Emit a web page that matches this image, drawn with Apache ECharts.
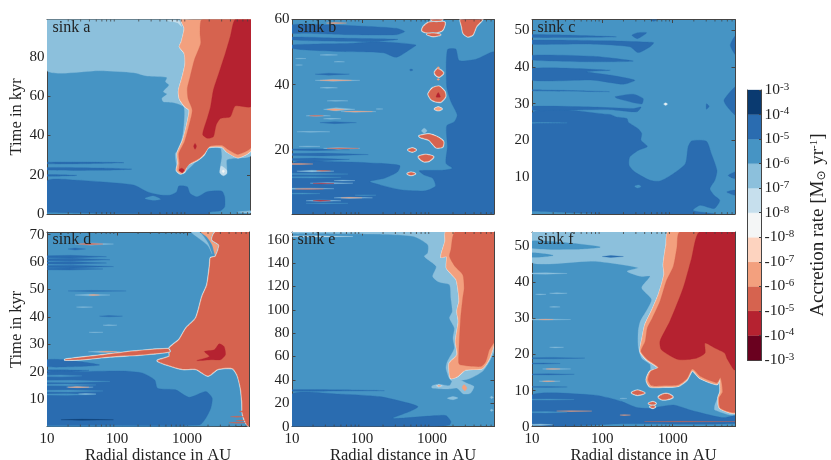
<!DOCTYPE html>
<html><head><meta charset="utf-8">
<script src="https://cdn.jsdelivr.net/npm/echarts@6/dist/echarts.min.js"></script>
<style>html,body{margin:0;padding:0;background:#fff}#c{width:831px;height:460px}</style>
</head><body><div id="c"></div>
<script>
// Contour bands, from +1e-3 (index 0) down to -1e-3 (index 10)
const levelColors=['#0a3a70','#2a6cb0','#4694c4','#8cc0dc','#c6dfed','#f4f6f6','#fdd3bf','#f3a07e','#d6634f','#b52230','#6a011f'];
const colorbarLabels=['-10|-3','-10|-4','-10|-5','-10|-6','-10|-7','-10|-8','10|-8','10|-7','10|-6','10|-5','10|-4','10|-3'];
const minorAU=[20,30,40,50,60,70,80,90,200,300,400,500,600,700,800,900,2000,3000,4000,5000,6000,7000];
const majorAU=[10,100,1000];

// Each region: [band index, [[log10 AU, kyr], ...], edged?]
const sinkA=[
[3,[[1,73],[1.75,73],[2.23,72],[2.42,70.3],[2.70,69.6],[2.68,67.4],[2.73,65.7],[2.65,62.3],[2.70,61.1],[2.63,58.9],[2.65,57.2],[2.80,56.7],[2.94,54.7],[2.95,49.6],[2.93,41.1],[2.87,32.6],[2.82,30.9],[2.84,24.1],[2.87,21.6],[2.93,20.4],[2.99,22.4],[3.18,29.2],[3.27,33.5],[3.46,33.5],[3.48,29.2],[3.46,24.1],[3.48,19.9],[3.55,22.4],[3.55,27.5],[3.65,28.4],[3.9,30.1],[3.9,99.2],[1,99.2]]],
[4,[[2.7,98.5],[2.87,98.5],[2.91,95.5],[2.85,97.5]]],
[4,[[3.47,24.5],[3.55,22.4],[3.55,20.5],[3.5,19.5],[3.45,21]]],
[5,[[3.5,22.5],[3.52,22],[3.5,21],[3.48,22]]],
[7,[[2.91,99.2],[2.95,94.6],[2.91,87.8],[2.88,85.3],[2.95,81.9],[2.96,75.9],[2.91,68.3],[2.87,63.2],[2.88,58.9],[2.96,54.7],[3.02,53],[2.99,46.2],[2.93,37.7],[2.85,30.9],[2.86,25.8],[2.84,22.4],[2.89,20.7],[2.95,21.6],[2.99,25],[3.13,27.5],[3.22,30.1],[3.29,34],[3.48,34.3],[3.55,31.8],[3.71,28.9],[3.9,33],[3.9,99.2]],1],
[8,[[3.2,99.2],[3.17,92.1],[3.18,87],[3.09,78.5],[3.03,70],[2.99,64],[3,58.9],[3.06,53],[3.01,44.5],[2.95,36.9],[2.87,30.9],[2.88,25.8],[2.87,22.4],[2.89,21.6],[2.95,22.4],[3.02,25.5],[3.16,28.4],[3.24,31.3],[3.31,34.6],[3.48,35],[3.58,32.6],[3.71,30.4],[3.9,34.3],[3.9,99.2]]],
[9,[[3.67,99.2],[3.6,90.4],[3.53,81.9],[3.46,74.2],[3.36,63.2],[3.32,54.7],[3.28,49.6],[3.22,42.8],[3.21,40.3],[3.28,38.6],[3.36,39.4],[3.4,45.4],[3.46,48.7],[3.6,49.6],[3.67,55],[3.9,55],[3.9,99.2]]],
[9,[[3.1,36],[3.12,34.6],[3.1,33],[3.08,34.6]]],
[9,[[2.87,22.4],[2.91,23.4],[2.95,22.4],[2.92,21]]],
[1,[[1,17],[1.42,17.3],[1.75,16.5],[2.23,14.8],[2.42,11.4],[2.61,9.7],[2.75,9.7],[2.84,11.4],[2.87,14.3],[2.99,13.9],[3.03,10.5],[3.13,8.8],[3.27,11.4],[3.48,11.7],[3.52,8.8],[3.52,3.7],[3.46,1.7],[3.3,1],[3.3,0],[1,0]]],
[2,[[1,0.7],[1.75,0.2],[2.3,0],[1,0]]],
[2,[[2.39,8],[2.51,9.2],[2.61,7.6],[2.51,7.1]]],
[3,[[3.7,1],[3.9,1.7],[3.9,0.6]]],
[1,[[1,26.4],[1.56,26.5],[2.09,26.2],[1.56,25.7],[1,25.6]]],
[1,[[1,23.7],[1.75,23.5],[2.2,22.9],[1.75,22.3],[1,22.4]]],
[1,[[1,20.1],[1.42,19.7],[1,19.3]]]
];
const sinkB=[
[1,[[1,15.8],[1.64,16.3],[2.25,15.8],[2.54,15.1],[2.51,13.2],[2.32,11.2],[2.11,10.2],[2.27,9.1],[2.58,7.6],[2.91,7.4],[3.05,8.8],[3.01,11.2],[2.89,12.2],[2.82,13.5],[3.15,13.7],[3.29,14.3],[3.2,15.8],[3.22,20.9],[3.21,27.3],[3.32,28.6],[3.36,30.7],[3.27,34.8],[3.21,39.4],[3.22,50.7],[3.34,50.9],[3.39,47.4],[3.63,47.8],[3.9,49.8],[3.9,0],[1,0]]],
[1,[[1,58.4],[1.87,58.1],[2.49,57.3],[2.61,56.3],[2.49,55.3],[1.87,55.3],[1.16,55.8],[1,55.8]]],
[1,[[1,54.6],[1.64,54.3],[2.51,53.9],[2.11,53.2],[1,53.7]]],
[1,[[1,52.2],[1.87,52.7],[2.25,53.2],[2.77,52.2],[2.68,50.7],[2.49,48.4],[2.3,49.8],[1.64,50.2],[1.16,50.7],[1,51.2]]],
[1,[[2.68,44.5],[2.7,44.8],[2.73,44.5],[2.7,44.2]]],
[8,[[2.88,57.8],[2.96,59.1],[3.18,59.1],[3.15,56.8],[3.06,56.1],[2.91,56.1],[2.86,56.6]],1],
[8,[[2.99,60.2],[3.15,60.2],[3.13,59.7],[3,59.7]],1],
[8,[[2.93,55.5],[3.02,55.7],[3.12,55.3],[3.02,54.9]],1],
[8,[[3.41,60.2],[3.72,60.2],[3.63,57.8],[3.58,55.3],[3.51,54.8],[3.45,55.8],[3.43,57.8]],1],
[8,[[3.04,43.7],[3.08,44.8],[3.13,44.3],[3.16,43.5],[3.11,42.5],[3.07,42.7]],1],
[7,[[3.07,45.2],[3.09,45.5],[3.11,45.2],[3.09,44.9]]],
[7,[[3.07,41.6],[3.09,41.9],[3.11,41.6],[3.09,41.3]]],
[8,[[2.95,37.1],[3.01,38.9],[3.1,39.4],[3.18,37.8],[3.19,36.3],[3.13,34.8],[3.06,34.8],[2.99,35.5]],1],
[9,[[3.09,37.6],[3.12,36.2],[3.06,36.2]]],
[7,[[3.04,32.5],[3.09,33],[3.14,32.5],[3.09,32.1]],1],
[3,[[2.85,25.8],[2.89,26.6],[2.93,25.8],[2.89,25]]],
[8,[[2.82,24.2],[2.96,24.7],[3.08,23.8],[3.16,22.5],[3.15,20.9],[3.06,20.7],[2.96,23],[2.84,23.8]],1],
[8,[[2.66,19.9],[2.72,20.4],[2.77,19.9],[2.72,19.4]],1],
[8,[[2.81,17.8],[2.91,18.4],[3.02,17.8],[2.96,16.6],[2.89,16.4],[2.85,16.8]],1],
[8,[[2.65,12.6],[2.7,13],[2.76,12.6],[2.7,12.2]],1]
];
const sinkBStreaks=[
[1.33,1.82,43.2,.3,1],[1.4,1.92,28.3,.3,1],[1,1.82,20,.3,1],[1,2.09,18.5,.45,1],[1,1.82,17,.45,1],
[1.33,1.97,41.3,.3,3],[1.4,1.85,41.3,.15,7],[1.45,1.9,32.4,.5,3],[1.5,1.75,32.3,.25,7],[1.7,2.2,31.7,.2,3],[1.75,2.15,31.7,.1,7],
[1.2,1.55,30.4,.2,3],[1.25,1.45,30.4,.1,8],[1.45,1.97,20.4,.25,3],[1.5,1.95,20.4,.13,8],[1,1.3,15.6,.18,7],
[1.07,1.6,13.4,.25,3],[1.35,1.55,13.5,.1,8],[1.26,1.87,9.7,.2,3],[1.3,1.6,9.6,.1,9],[1.6,1.9,10.5,.1,3],
[1,1.6,8,.2,3],[1.05,1.45,7.9,.1,8],[1.2,1.7,4.3,.25,3],[1.3,1.55,4.3,.13,9],[1.6,2.15,5.2,.18,3],[1.7,2,5.2,.08,7],
[1.4,1.65,49.1,.12,3],[1.49,1.78,58.9,.2,7],[1.07,1.54,25.5,.12,3],[1.4,1.65,39,.15,3],[1.5,1.8,35,.1,3],[1.45,1.7,29.5,.12,3],[2.2,2.3,32.5,.07,3],
[1.05,1.15,46,.08,3],[1.05,1.2,48,.08,3],[1.6,1.75,47,.08,3],[1.1,1.4,21,.08,3],
[1,1.7,11.5,.2,2],[1,1.8,12.5,.2,2],[1,1.4,6.5,.15,2],[1.2,1.8,3.5,.1,2],[1.9,2.2,6,.1,2]
];
const sinkC=[
[1,[[1,27.5],[2.11,27.1],[2.2,26.4],[2.35,26],[2.37,25],[2.51,23.2],[2.56,21.9],[2.55,20.1],[2.64,18.4],[2.51,17.3],[2.39,15.5],[2.38,13.3],[2.46,11.5],[2.68,9.2],[2.82,9],[3.01,11],[3.18,13.7],[3.22,18.3],[3.27,19.9],[3.48,19.8],[3.55,16.4],[3.63,11.9],[3.6,9.2],[3.53,6.9],[3.59,5.1],[3.67,3.7],[3.59,1.5],[3.39,2.4],[3.29,1],[3.6,0.1],[3.6,0],[1,0]]],
[2,[[2.46,7.6],[2.52,7.9],[2.55,7.5],[2.5,7.1]]],
[2,[[1,0.7],[1.64,0.2],[1.9,0],[1,0]]],
[1,[[3.9,48.6],[3.82,45.9],[3.9,43.2]]],
[1,[[3.9,34.6],[3.73,31],[3.78,29.1],[3.9,26.9]]],
[1,[[3.9,11.5],[3.79,10.5],[3.9,9.6]]],
[1,[[3.77,6],[3.9,5.1],[3.9,6.5]]],
[1,[[2.68,52.9],[2.78,52.9],[2.73,52.4]]],
[1,[[1,48.8],[2.2,48.2],[1,48]]],
[1,[[1,47.3],[2.11,47.1],[2.58,46.8],[2.73,46.6],[2.68,45.5],[2.51,43.9],[2.39,45.5],[1.87,46.2],[1,46.2]]],
[1,[[2.42,48.6],[2.5,49.3],[2.63,49.3],[2.5,47.7]]],
[1,[[1,43.2],[1.87,42.9],[2.44,41.6],[1.87,41.4],[1,41.9]]],
[1,[[1,39.6],[2.11,39.1],[1.78,38.7],[2.11,37.8],[2.46,36.4],[2.3,35.3],[1.87,36.4],[1,36.4]]],
[1,[[1,33.8],[2.1,33.3],[1,33.5]]],
[1,[[2.18,31.9],[2.44,32.6],[2.58,31.4],[2.56,29.9],[2.22,31.4]]],
[1,[[1,29.3],[1.87,29.1],[2.44,28.7],[2.55,29.1],[2.49,27.8],[2.11,28.4],[1,28.2]]],
[1,[[3.48,30],[3.52,29.3],[3.48,28.5]]],
[2,[[1,24.9],[1.5,24.8],[1,24.7]]],
[4,[[2.87,29.9],[2.9,30.3],[2.93,29.9],[2.9,29.5]]],
[5,[[2.885,29.9],[2.9,30.1],[2.915,29.9],[2.9,29.7]]]
];
const sinkD=[
[3,[[3.06,71],[3.18,71],[3.3,67],[3.36,63],[3.3,66],[3.18,68.5]]],
[1,[[1,19.5],[1.52,20.1],[2.09,20.3],[2.37,19.5],[2.54,17],[2.58,14],[2.84,13.4],[3.03,10.7],[3.27,12.8],[3.36,10.4],[3.34,6.7],[3.27,3.1],[3.18,0.6],[1,0.3]]],
[1,[[1,24.4],[1.33,24.2],[1.75,22.5],[1.42,21.9],[1,21.9]]],
[1,[[1,20.7],[1.6,20.5],[1,20.1]]],
[7,[[3.2,71],[3.29,69],[3.36,66.3],[3.41,62.1],[3.46,66.3],[3.41,71]]],
[8,[[3.41,71],[3.36,68.2],[3.46,66.3],[3.41,62.1],[3.34,61.5],[3.33,59],[3.29,51.7],[3.22,47.5],[3.13,39.6],[2.99,35.9],[2.89,31.7],[2.75,28.6],[2.75,25.6],[2.58,24],[2.8,21.9],[2.94,21],[3.13,21],[3.3,18.6],[3.44,21],[3.65,21.3],[3.72,18.9],[3.77,14],[3.79,9.2],[3.8,4.3],[3.86,0.6],[3.9,0],[3.9,71]],1],
[9,[[3.25,27.4],[3.39,28],[3.46,30.2],[3.53,29.2],[3.55,26.2],[3.48,24.4],[3.36,24.4],[3.14,24.1],[3.32,25.6]]],
[8,[[1.26,24.4],[1.75,25.9],[2.23,27.4],[2.73,28.3],[2.75,27.4],[2.32,26.2],[1.9,25.6],[1.52,24.6]],1]
];
const sinkDStreaks=[
[1,1.85,62,.5,1],[1,1.9,60.9,.5,1],[1,1.85,59.7,.5,1],[1,1.95,58.4,.5,1],[1,1.8,57.5,.4,1],[1.3,1.55,64.8,.4,1],
[1.4,1.95,66.6,.4,3],[1.45,1.8,66.6,.25,8],[1.4,1.9,48,.3,3],[1.6,1.75,48,.18,7],[1.3,2.13,49.5,.2,1],[1.42,1.65,43.6,.15,3],[1.75,2.08,40.3,.25,1],[1.8,2,37,.15,3],[1.6,1.8,34.4,.1,3],
[1.59,2.04,27.3,.3,3],[1.75,2,27.3,.2,7],
[1,1.5,18.5,.35,2],[1,1.9,16.5,.4,2],[1,1.7,15.2,.3,2],[1,1.8,13,.35,2],[1,1.7,11.7,.3,2],[1.28,1.66,14.4,.2,3],[1.3,1.6,14.4,.1,7],[1.45,1.7,11.9,.15,3],
[1.2,1.95,2.5,.2,0],[3.62,3.85,3.6,.2,8],[3.7,3.85,2.2,.2,8],[3.6,3.88,1.4,.2,8],[3.75,3.88,5.5,.3,8],[1,3.7,0.1,.25,2]
];
const sinkE=[
[3,[[1,165.5],[2.11,164.9],[2.73,162.9],[2.94,155.7],[2.94,148.6],[2.89,145.7],[3.06,137.1],[3.01,128.6],[3.1,123.7],[3.25,121.4],[3.27,110],[3.29,98.6],[3.25,92.9],[3.32,84.3],[3.3,75.7],[3.32,67.1],[3.22,55.7],[3.2,50],[3.25,41],[3.3,38.6],[3.53,40.9],[3.72,47.1],[3.82,55.7],[3.9,67],[3.9,166.6],[1,166.6]]],
[3,[[3,34.9],[3.1,36.3],[3.25,35.1],[3.3,40],[3.4,40],[3.5,37.1],[3.6,34.3],[3.55,28.6],[3.45,28],[3.36,32.9],[3.25,32.3],[3.1,32.5],[3,33]]],
[3,[[3.22,24.3],[3.3,25.7],[3.37,24.5],[3.3,23]]],
[7,[[3.2,166.6],[3.19,158.6],[3.13,145.1],[3.21,145.7],[3.21,135.7],[3.29,130],[3.35,125.7],[3.38,115.7],[3.39,107],[3.36,98.6],[3.38,90],[3.34,72.9],[3.36,61.4],[3.25,54.3],[3.25,47.1],[3.27,41.4],[3.36,42.9],[3.48,48.6],[3.72,50],[3.82,58.6],[3.9,75.7],[3.9,166.6]],1],
[8,[[3.33,166.6],[3.27,151.4],[3.25,145.7],[3.33,137.1],[3.44,130],[3.46,118.6],[3.44,110],[3.41,92.9],[3.39,72.9],[3.38,55],[3.4,52.9],[3.7,51.4],[3.77,55.7],[3.82,65.7],[3.9,74.3],[3.9,166.6]]],
[7,[[3.43,33.5],[3.46,36],[3.5,33],[3.47,30.5]]],
[1,[[1,28],[1.64,28],[2.25,25.7],[2.58,21.4],[2.8,17.1],[2.68,12.9],[2.44,7.1],[3.06,9.4],[3.2,9.4],[3.27,4.3],[3.25,1.4],[3,0],[1,0]]],
[1,[[1,31.6],[1.7,31.5],[2.32,30.8],[1.7,30.5],[1,30.3]]]
];
const sinkEStreaks=[[1,1.87,162.8,.5,4],[3.06,3.15,34.9,1.2,4],[3.08,3.13,34.9,.6,7],[3.83,3.88,25,1.2,3],[3.83,3.88,14,1,3]];
const sinkF=[
[3,[[1,45.5],[1.87,45.9],[2.51,44.1],[2.35,43.1],[2.54,41.7],[2.68,41.7],[2.56,38.5],[2.7,35.3],[2.65,32.9],[2.54,29.2],[2.51,26.4],[2.51,22.2],[2.56,19],[2.68,17.2],[2.68,14.3],[2.63,12],[2.77,11],[3.06,11.6],[3.2,12.5],[3.28,15.4],[3.39,13.5],[3.63,12.7],[3.67,9.7],[3.6,6],[3.6,4.6],[3.9,3.5],[3.9,54],[1,54]]],
[2,[[1,51.5],[1.6,50.8],[1.97,49.8],[1.6,49.2],[1,49.5]]],
[2,[[1,48.2],[1.3,47.5],[1,47]]],
[7,[[2.94,54],[2.91,50.6],[2.87,45],[2.88,42.2],[2.8,36.6],[2.7,32],[2.61,28.3],[2.57,24.6],[2.54,20.9],[2.63,18.6],[2.8,16.2],[2.68,15.3],[2.63,13],[2.68,11.1],[2.91,11.1],[3.08,11.3],[3.2,13],[3.28,15.6],[3.39,13.5],[3.63,11.8],[3.67,13.5],[3.68,9.7],[3.65,7.9],[3.67,5.1],[3.9,4],[3.9,54]],1],
[8,[[3.1,54],[3.06,49.6],[3.01,44.5],[2.91,40.4],[2.82,34.8],[2.71,30.1],[2.64,27.4],[2.61,23.7],[2.55,20.9],[2.64,18.7],[2.8,16.4],[2.69,15.3],[2.65,13],[2.7,11.4],[2.91,11.4],[3.08,11.6],[3.2,13.3],[3.28,16],[3.4,13.9],[3.63,12.2],[3.68,13.6],[3.71,9.7],[3.66,7.9],[3.68,5.1],[3.9,4.2],[3.9,54]]],
[9,[[3.38,54],[3.27,46.8],[3.15,38.5],[2.96,29.2],[2.82,23.7],[2.84,21.3],[3.08,18.6],[3.34,19],[3.46,20.4],[3.46,23.2],[3.6,21.8],[3.74,20.4],[3.77,19],[3.87,15.8],[3.9,15.8],[3.9,54]]],
[1,[[1,8.8],[1.87,8.8],[2.11,7.9],[2.27,7],[2.49,5.3],[2.68,5.1],[3.01,6],[3.25,4.6],[3.53,3.2],[3.72,2.5],[3.9,3],[3.9,.9],[2.3,.8],[1,.6]]],
[8,[[2.42,9.4],[2.5,10],[2.6,9.3],[2.5,8.8]],1],
[8,[[2.8,8.2],[2.87,9],[2.94,9],[3,8.2],[2.92,7.6],[2.84,7.6]],1],
[8,[[2.66,6.4],[2.72,6.8],[2.76,6.4],[2.72,6.1]],1],
[8,[[2.68,5.5],[2.72,5.8],[2.75,5.5],[2.72,5.2]],1]
];
const sinkFStreaks=[
[2,2.3,47.2,.25,1],[1,1.5,42.5,.2,3],[1.05,1.2,36.7,.1,3],[1.25,1.5,37,.12,3],[1.25,1.4,33.2,.1,3],[1,1.55,29.7,.15,3],[1.1,1.3,29.7,.07,7],[1.25,1.45,22,.12,3],
[1,1.75,19,.2,1],[1,1.4,17.5,.15,1],[1.15,1.55,16,.15,3],[1.2,1.4,16,.07,7],[1,1.6,14.5,.15,1],[1.1,1.4,12.6,.15,3],[1.15,1.32,12.6,.07,7],[1,1.5,11,.15,1],
[1.35,1.85,4.3,.1,7],[2.25,2.4,3.2,.1,7],[2.6,3.9,1.4,.08,8],[2.25,2.35,7.8,.1,3],[1,1.3,0.5,.2,3],[1,1.6,7.5,.15,2],[1,1.5,4,.2,2]
];

const panels=[
 {name:'sink a',regions:sinkA,streaks:[],left:47,top:19.5,width:203.5,yMin:0,yMax:99.1,yTicks:[0,20,40,60,80],yName:true,xLabels:false},
 {name:'sink b',regions:sinkB,streaks:sinkBStreaks,left:292,top:19.5,width:202,yMin:0.2,yMax:60,yTicks:[20,40,60],xLabels:false},
 {name:'sink c',regions:sinkC,streaks:[],left:532,top:19.5,width:203,yMin:0,yMax:52.9,yTicks:[10,20,30,40,50],xLabels:false},
 {name:'sink d',regions:sinkD,streaks:sinkDStreaks,left:47,top:232,width:202,yMin:0,yMax:71,yTicks:[10,20,30,40,50,60,70],yName:true,xLabels:true},
 {name:'sink e',regions:sinkE,streaks:sinkEStreaks,left:292,top:232,width:202,yMin:0,yMax:166.6,yTicks:[0,20,40,60,80,100,120,140,160],xLabels:true},
 {name:'sink f',regions:sinkF,streaks:sinkFStreaks,left:532,top:232,width:203,yMin:0,yMax:54,yTicks:[0,10,20,30,40,50],xLabels:true}
];
const serif='"Liberation Serif",serif', ink='#222', frame='#444';
const AUmax=7700, H=194.6;

function streakRegion(s){
  const [a,b,t,h,lev]=s, m=a+(b-a)*.4;
  const pts=a<=1?[[a,t+h*.7],[m,t+h],[b,t],[m,t-h],[a,t-h*.7]]:[[a,t],[m,t+h],[b,t],[m,t-h]];
  return [lev,pts,0,1];
}
const option={animation:false,backgroundColor:'#fff',title:[],grid:[],xAxis:[],yAxis:[],series:[]};

panels.forEach((p,i)=>{
  option.grid.push({left:p.left,top:p.top,width:p.width,height:H,show:true,backgroundColor:levelColors[2],borderWidth:0,containLabel:false,outerBoundsMode:'none'});
  option.title.push({text:p.name,left:p.left+5.5,top:p.top,padding:0,textStyle:{fontFamily:serif,fontSize:16,fontWeight:'normal',color:ink}});
  const line={show:true,onZero:false,lineStyle:{color:frame,width:1}};
  const tick=(vals)=>({show:true,inside:true,length:3.5,lineStyle:{color:frame,width:1},customValues:vals});
  const xBase={type:'log',logBase:10,min:10,max:AUmax,gridIndex:i,splitLine:{show:false},minorTick:{show:false},axisLine:line,axisTick:tick(majorAU)};
  option.xAxis.push(Object.assign({},xBase,{position:'bottom',
    name:p.xLabels?'Radial distance in AU':'',nameLocation:'middle',nameGap:20,
    nameTextStyle:{fontFamily:serif,fontSize:16.5,color:ink,padding:[0,0,0,20]},
    axisLabel:{show:p.xLabels,customValues:majorAU,margin:5,fontFamily:serif,fontSize:15,color:ink,formatter:v=>String(Math.round(v))}}));
  option.xAxis.push(Object.assign({},xBase,{position:'top',axisLabel:{show:false}}));
  const yBase={type:'value',min:p.yMin,max:p.yMax,gridIndex:i,splitLine:{show:false},axisLine:line,axisTick:tick(p.yTicks)};
  option.yAxis.push(Object.assign({},yBase,{position:'left',
    name:p.yName?'Time in kyr':'',nameLocation:'middle',nameGap:18,nameRotate:90,
    nameTextStyle:{fontFamily:serif,fontSize:16.5,color:ink},
    axisLabel:{customValues:p.yTicks,margin:2.5,fontFamily:serif,fontSize:15,color:ink}}));
  option.yAxis.push(Object.assign({},yBase,{position:'right',axisLabel:{show:false}}));
  const regions=p.regions.concat(p.streaks.map(streakRegion));
  option.series.push({type:'custom',coordinateSystem:'cartesian2d',xAxisIndex:i*2,yAxisIndex:i*2,clip:true,z:2,silent:true,
    data:regions.map((r,k)=>[10**r[1][0][0],r[1][0][1],k]),
    renderItem(params,api){
      const r=regions[params.dataIndex];
      const pts=r[1].map(q=>api.coord([10**q[0],q[1]]));
      const smooth=r[3]?0:.22;
      const kids=[];
      if(r[2]){
        [[2.6,3],[1.6,5],[.7,7]].forEach(([w,l])=>kids.push({type:'polygon',shape:{points:pts,smooth},style:{fill:null,stroke:levelColors[l],lineWidth:w,lineJoin:'round'}}));
      }
      kids.push({type:'polygon',shape:{points:pts,smooth},style:{fill:levelColors[r[0]],stroke:levelColors[r[0]],lineWidth:.3}});
      return {type:'group',children:kids};
    }});
  option.series.push({type:'custom',coordinateSystem:'cartesian2d',xAxisIndex:i*2,yAxisIndex:i*2,clip:false,z:5,silent:true,
    data:minorAU.map(v=>[v,p.yMin]),
    renderItem(params,api){
      const v=api.value(0);
      const a=api.coord([v,p.yMin]), b=api.coord([v,p.yMax]);
      const st={stroke:frame,lineWidth:.8};
      return {type:'group',children:[
        {type:'line',shape:{x1:a[0],y1:a[1],x2:a[0],y2:a[1]-2},style:st},
        {type:'line',shape:{x1:b[0],y1:b[1],x2:b[0],y2:b[1]+2},style:st}]};
    }});
});

// Colour bar
const cb=panels.length;
const cbLine={show:true,onZero:false,lineStyle:{color:frame,width:1}};
option.grid.push({left:747.5,top:90,width:14,height:270,show:false,outerBoundsMode:'none'});
const cbX={type:'value',gridIndex:cb,min:0,max:1,splitLine:{show:false},axisTick:{show:false},axisLabel:{show:false},axisLine:cbLine};
option.xAxis.push(Object.assign({},cbX,{position:'bottom'}));
option.xAxis.push(Object.assign({},cbX,{position:'top'}));
option.yAxis.push({type:'value',gridIndex:cb,min:0,max:11,interval:1,position:'right',z:5,
  splitLine:{show:false},
  axisLine:cbLine,
  axisTick:{show:true,inside:true,length:2.5,lineStyle:{color:frame}},
  name:'{t|Accretion rate [M}{u|⊙}{t| yr}{e|-1}{t|]}',nameLocation:'middle',nameGap:47,nameRotate:90,
  nameTextStyle:{fontFamily:serif,fontSize:19,color:ink,padding:[0,0,6,0],rich:{
    t:{fontFamily:serif,fontSize:19,color:ink},
    u:{fontFamily:'"DejaVu Sans",sans-serif',fontSize:12,color:ink,verticalAlign:'bottom',padding:[6,1,0,0]},
    e:{fontFamily:serif,fontSize:11,color:ink,verticalAlign:'top',padding:[0,0,8,0]}}},
  axisLabel:{margin:3,fontFamily:serif,fontSize:15.5,color:ink,
    formatter:v=>{const [b,e]=colorbarLabels[v].split('|');return '{b|'+b+'}{e|'+e+'}';},
    rich:{b:{fontFamily:serif,fontSize:15.5,color:ink},e:{fontFamily:serif,fontSize:11,color:ink,verticalAlign:'top',padding:[0,0,6,0]}}}});
option.yAxis.push({type:'value',gridIndex:cb,min:0,max:11,position:'left',z:5,splitLine:{show:false},axisTick:{show:false},axisLabel:{show:false},axisLine:cbLine});
const bands=[10,9,8,7,6,5,4,3,2,1,0];
option.series.push({type:'custom',coordinateSystem:'cartesian2d',xAxisIndex:cb*2,yAxisIndex:cb*2,silent:true,clip:false,
  data:bands.map((b,k)=>[0,k,k+1,b]),
  renderItem(params,api){
    const a=api.coord([0,api.value(1)]), b=api.coord([1,api.value(2)]);
    return {type:'rect',shape:{x:a[0],y:b[1],width:b[0]-a[0],height:a[1]-b[1]},style:{fill:levelColors[api.value(3)],stroke:levelColors[api.value(3)],lineWidth:.3}};
  }});

echarts.init(document.getElementById('c'),null,{renderer:'canvas'}).setOption(option);
</script></body></html>
